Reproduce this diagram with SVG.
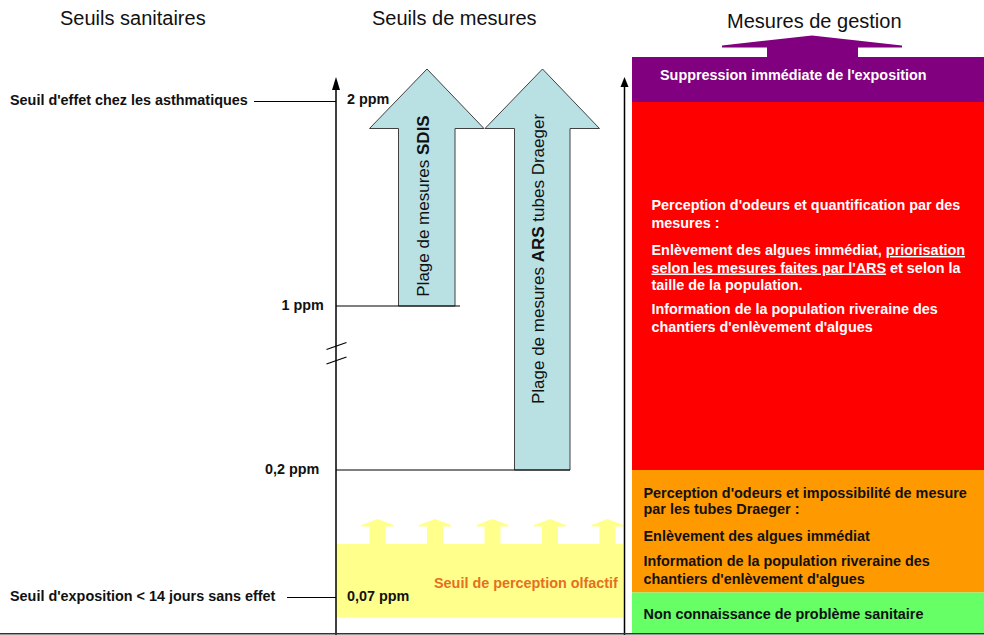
<svg xmlns="http://www.w3.org/2000/svg" width="984" height="635" viewBox="0 0 984 635">
<style>
text{font-family:"Liberation Sans",Arial,sans-serif}
.h{font-size:20px;fill:#111}
.b{font-size:14.4px;font-weight:bold;fill:#111}
.w{font-size:14.4px;font-weight:bold;fill:#fff}
.r{font-size:17px;fill:#111}
.ax{stroke:#000;stroke-width:1.5;fill:none}
.ln{stroke:#000;stroke-width:1.2;fill:none}
.blue{fill:#b9e0e3;stroke:#404040;stroke-width:1}
.ya{fill:#ffff8c}
</style>
<defs>
<polygon id="yarrow" points="-16,6 0,0 16,6 16,7.5 8,7.5 8,25 -8,25 -8,7.5 -16,7.5"/>
</defs>
<rect width="984" height="635" fill="#fff"/>

<g id="headers">
<text class="h" x="60" y="25">Seuils sanitaires</text>
<text class="h" x="372" y="25">Seuils de mesures</text>
<text class="h" x="727" y="28">Mesures de gestion</text>
</g>

<g id="olfactory-band">
<rect class="ya" x="336" y="544" width="287" height="73.5"/>
<use href="#yarrow" class="ya" x="377.5" y="519"/>
<use href="#yarrow" class="ya" x="435" y="519"/>
<use href="#yarrow" class="ya" x="492.5" y="519"/>
<use href="#yarrow" class="ya" x="550" y="519"/>
<polygon class="ya" points="591.5,525 607.5,519 623,524.8 623,526.5 615.5,526.5 615.5,544 599.5,544 599.5,526.5 591.5,526.5"/>
<text class="b" x="434" y="588" style="fill:#e5701f">Seuil de perception olfactif</text>
</g>

<g id="axis-left">
<line class="ax" x1="336" y1="88" x2="336" y2="635"/>
<polygon points="336,77 332,90 340,90" fill="#000"/>
<line class="ln" x1="326.5" y1="349.5" x2="346.5" y2="342.5"/>
<line class="ln" x1="326.5" y1="364" x2="346.5" y2="357"/>
</g>

<g id="axis-right">
<line class="ax" x1="624.5" y1="84" x2="624.5" y2="635"/>
<polygon points="624.5,77 620.5,87 628.5,87" fill="#000"/>
</g>

<g id="values">
<text class="b" x="347" y="104">2 ppm</text>
<text class="b" x="281.5" y="310">1 ppm</text>
<text class="b" x="265" y="474">0,2 ppm</text>
<text class="b" x="347" y="601">0,07 ppm</text>
</g>

<g id="label-asthma">
<text class="b" x="10" y="105">Seuil d'effet chez les asthmatiques</text>
</g>
<g id="label-exposure">
<text class="b" x="10" y="601">Seuil d'exposition &lt; 14 jours sans effet</text>
</g>

<g id="arrow-sdis">
<polygon class="blue" points="398.5,306 398.5,128.5 369.5,128.5 427,69 484,128.5 455,128.5 455,306"/>
<text class="r" transform="translate(429,206) rotate(-90)" text-anchor="middle">Plage de mesures <tspan font-weight="bold">SDIS</tspan></text>
</g>

<g id="arrow-ars">
<polygon class="blue" points="514.5,470 514.5,128.5 485,128.5 542.5,69 599.5,128.5 570,128.5 570,470"/>
<text class="r" transform="translate(543.5,259) rotate(-90)" text-anchor="middle">Plage de mesures <tspan font-weight="bold">ARS</tspan> tubes Draeger</text>
</g>

<g id="connectors">
<line class="ln" x1="254" y1="101.5" x2="336" y2="101.5"/>
<line class="ln" x1="287" y1="597.5" x2="336" y2="597.5"/>
<line class="ln" x1="336" y1="306" x2="460" y2="306"/>
<line class="ln" x1="336" y1="470" x2="570" y2="470"/>
</g>

<g id="purple-arrow">
<polygon fill="#800080" points="722,45.5 812,35.5 902,45.5 902,47.5 858,47.5 858,58 767,58 767,47.5 722,47.5"/>
</g>

<g id="level-purple">
<rect x="632" y="57" width="352" height="45" fill="#800080"/>
<text class="w" x="660" y="80">Suppression immédiate de l'exposition</text>
</g>

<g id="level-red">
<rect x="632" y="102" width="352" height="368" fill="#ff0000"/>
<text class="w" x="651.5" y="210">Perception d'odeurs et quantification par des</text>
<text class="w" x="651.5" y="228">mesures :</text>
<text class="w" x="651.5" y="255">Enlèvement des algues immédiat, <tspan text-decoration="underline">priorisation</tspan></text>
<text class="w" x="651.5" y="272.5"><tspan text-decoration="underline">selon les mesures faites par l'ARS</tspan> et selon la</text>
<text class="w" x="651.5" y="290">taille de la population.</text>
<text class="w" x="651.5" y="314">Information de la population riveraine des</text>
<text class="w" x="651.5" y="331.5">chantiers d'enlèvement d'algues</text>
</g>

<g id="level-orange">
<rect x="632" y="470" width="352" height="122.5" fill="#ff9900"/>
<text class="b" x="643.5" y="497.5">Perception d'odeurs et impossibilité de mesure</text>
<text class="b" x="643.5" y="514">par les tubes Draeger :</text>
<text class="b" x="643.5" y="540.5">Enlèvement des algues immédiat</text>
<text class="b" x="643.5" y="566">Information de la population riveraine des</text>
<text class="b" x="643.5" y="583.5">chantiers d'enlèvement d'algues</text>
</g>

<g id="level-green">
<rect x="632" y="592.5" width="352" height="41" fill="#66ff66"/>
<text class="b" x="643.5" y="618.5">Non connaissance de problème sanitaire</text>
</g>

<g id="baseline">
<line x1="0" y1="633.8" x2="984" y2="633.8" stroke="#333" stroke-width="1.6"/>
</g>
</svg>
